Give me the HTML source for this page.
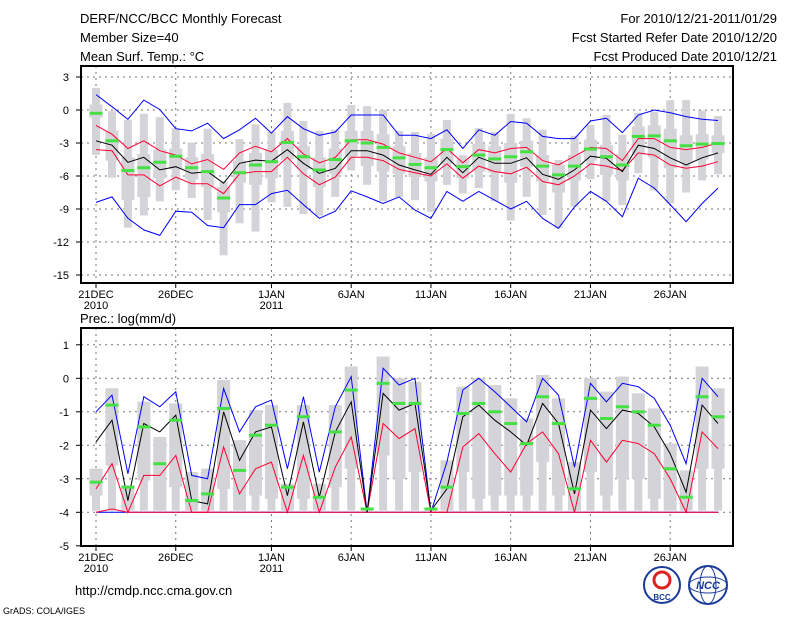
<!DOCTYPE html>
<html><head><meta charset="utf-8"><style>
body{margin:0;background:#fff}
svg{display:block}
text{font-family:"Liberation Sans","DejaVu Sans",sans-serif;fill:#000}
</style></head><body>
<svg id="chart" width="800" height="618" viewBox="0 0 800 618" xmlns="http://www.w3.org/2000/svg">
<text x="80" y="23" font-size="13">DERF/NCC/BCC Monthly Forecast</text>
<text x="80" y="42" font-size="13">Member Size=40</text>
<text x="80" y="61" font-size="13">Mean Surf. Temp.: °C</text>
<text x="777" y="23" font-size="13" text-anchor="end">For 2010/12/21-2011/01/29</text>
<text x="777" y="42" font-size="13" text-anchor="end">Fcst Started Refer Date 2010/12/20</text>
<text x="777" y="61" font-size="13" text-anchor="end">Fcst Produced Date 2010/12/21</text>
<text x="80" y="323" font-size="13">Prec.: log(mm/d)</text>
<text x="75" y="595" font-size="13">http://cmdp.ncc.cma.gov.cn</text>
<text x="3" y="614" font-size="9">GrADS: COLA/IGES</text>
<g>
<circle cx="662" cy="585" r="18" fill="#fff" stroke="#1a3a9a" stroke-width="2"/>
<circle cx="662" cy="580" r="8" fill="none" stroke="#d22" stroke-width="3"/>
<text x="662" y="600" font-size="8" text-anchor="middle" font-weight="bold" style="fill:#1a3a9a">BCC</text>
</g>
<g>
<circle cx="708" cy="585" r="19" fill="#fff" stroke="#1a3a9a" stroke-width="2"/>
<ellipse cx="708" cy="585" rx="19" ry="8" fill="none" stroke="#1a3a9a"/>
<ellipse cx="708" cy="585" rx="8" ry="19" fill="none" stroke="#1a3a9a"/>
<text x="708" y="589" font-size="11" text-anchor="middle" font-weight="bold" font-style="italic" style="fill:#1a3a9a">NCC</text>
</g>
<g id="top"></g>
<g id="bot"></g>
</svg>
<script>
const days = ["21DEC","22","23","24","25","26DEC","27","28","29","30","31","1JAN","2","3","4","5","6JAN","7","8","9","10","11JAN","12","13","14","15","16JAN","17","18","19","20","21JAN","22","23","24","25","26JAN","27","28","29"];
const xTickLabels = ["21DEC","26DEC","1JAN","6JAN","11JAN","16JAN","21JAN","26JAN"];
const xTickDays = [0,5,11,16,21,26,31,36];
const topYTicks = [3,0,-3,-6,-9,-12,-15];
const botYTicks = [1,0,-1,-2,-3,-4,-5];

const tMax = [2.0,-0.1,-0.9,-0.35,-0.65,-1.65,-2.95,-1.7,-6.5,-2.65,-1.3,-2.0,0.65,-1.0,-1.9,-1.8,0.45,0.35,0,-1.9,-2.0,-2.2,-0.9,-4.1,-1.65,-2.0,-0.35,-0.75,-1.8,-4.55,-2.35,-1.35,-0.45,-2.25,-0.25,-0.15,0.9,0.9,-0.05,-0.55];
const tMin = [-4.1,-6.15,-10.7,-9.6,-8.3,-7.3,-8.0,-10,-13.2,-10.3,-11.05,-8.4,-8.8,-9.45,-9.6,-7.9,-5.5,-6.8,-8.3,-7.9,-8.2,-9.25,-6.8,-7.6,-7.1,-8.3,-10.05,-7.9,-9.55,-10.75,-8.8,-6.3,-8.3,-8.65,-5.75,-7.3,-8.5,-7.5,-6.4,-5.85];
const tQ3 = [0.5,-1.9,-4.3,-4.0,-3.6,-3.5,-4.3,-4.0,-7.0,-4.6,-3.9,-3.6,-1.9,-3.3,-4.3,-3.5,-1.9,-1.9,-2.2,-3.3,-3.9,-4.3,-2.6,-4.5,-3.1,-3.3,-3.0,-2.8,-4.1,-5.0,-4.1,-2.7,-3.2,-4.0,-1.5,-1.4,-1.7,-2.3,-2.2,-2.3];
const tQ1 = [-0.7,-4.6,-8.2,-7.9,-6.2,-5.4,-6.3,-7.0,-9.3,-6.6,-6.8,-6.2,-4.5,-5.4,-7.0,-5.8,-4.2,-5.1,-5.6,-5.8,-6.1,-6.5,-4.9,-6.2,-5.6,-5.7,-6.6,-5.2,-6.5,-7.5,-6.4,-4.6,-5.9,-6.4,-4.1,-4.3,-5.3,-4.7,-4.5,-3.9];
const tMed = [-0.3,-2.8,-5.5,-5.25,-4.75,-4.2,-5.25,-5.6,-8.0,-5.7,-5.0,-4.7,-2.95,-4.25,-5.45,-4.5,-2.8,-3.0,-3.4,-4.35,-4.95,-5.25,-3.6,-5.15,-4.1,-4.45,-4.25,-3.8,-5.1,-5.9,-5.1,-3.55,-4.25,-5.0,-2.4,-2.35,-2.8,-3.25,-3.1,-3.05];
const tMean = [-2.8,-3.2,-4.75,-4.3,-5.45,-5.15,-5.75,-5.6,-6.65,-4.85,-4.55,-4.65,-3.6,-4.85,-5.75,-5.3,-3.7,-3.7,-4.1,-5.0,-5.45,-5.85,-4.3,-5.7,-4.3,-4.85,-4.85,-4.35,-5.85,-6.3,-5.45,-4.2,-4.4,-5.6,-3.2,-3.5,-4.35,-5.0,-4.35,-3.9];
const tRedHi = [-1.4,-2.2,-3.5,-2.8,-3.7,-4.1,-4.9,-4.5,-5.4,-3.9,-3.3,-3.8,-2.6,-4.0,-4.8,-4.3,-2.7,-2.7,-3.1,-3.9,-4.3,-4.7,-3.5,-4.8,-3.6,-3.9,-3.5,-3.4,-4.6,-5.0,-4.2,-3.4,-3.5,-4.6,-2.6,-2.6,-3.4,-3.6,-3.4,-3.0];
const tRedLo = [-3.6,-3.7,-5.9,-5.9,-6.9,-6.1,-6.7,-6.7,-7.6,-5.8,-5.6,-5.6,-4.3,-5.8,-6.8,-6.1,-4.3,-4.3,-4.6,-5.4,-5.7,-6.0,-4.9,-6.2,-5.1,-5.6,-5.8,-5.2,-6.5,-6.8,-6.0,-4.9,-5.1,-5.5,-3.9,-4.1,-5.0,-5.3,-5.1,-4.7];
const tBlueHi = [1.4,0.3,-0.85,0.9,0.05,-1.7,-1.9,-1.2,-2.6,-1.8,-0.75,-2.1,-0.6,-1.7,-2.3,-2.0,-0.45,-0.45,-0.45,-2.3,-2.3,-2.6,-1.8,-3.5,-1.8,-2.3,-1.05,-1.2,-2.4,-2.6,-2.6,-1.0,-0.75,-2.05,-0.45,0,-0.25,-0.6,-0.85,-0.95];
const tBlueLo = [-8.4,-7.9,-9.85,-10.9,-11.4,-9.2,-9.3,-10.5,-10.7,-8.6,-8.6,-7.6,-7.3,-8.6,-9.85,-9.2,-7.35,-7.9,-8.5,-7.9,-9.1,-9.85,-7.4,-8.3,-7.4,-8.2,-9.0,-8.3,-9.85,-10.75,-8.8,-7.4,-8.3,-9.7,-6.2,-7.1,-8.6,-10.15,-8.5,-7.1];

const bMax = [-2.7,-0.3,-3.2,-0.7,-1.75,-0.75,-2.8,-2.7,-0.05,-1.85,-0.95,-0.8,-3.15,-0.8,-3.15,-0.8,0.35,-3.9,0.65,0.0,-0.1,-3.9,-2.45,-0.25,0.0,-0.2,-0.6,-1.2,0.1,-0.6,-2.5,0.0,-0.4,0.05,-0.45,-0.9,-1.95,-2.75,0.35,-0.3];
const bQ3 = [-2.7,-0.3,-3.2,-0.7,-1.75,-0.75,-2.8,-2.7,-0.05,-1.85,-0.95,-0.8,-3.15,-0.8,-3.15,-0.8,0.35,-3.9,0.65,0.0,-0.1,-3.9,-2.45,-0.25,0.0,-0.2,-0.6,-1.2,0.1,-0.6,-2.5,0.0,-0.4,0.05,-0.45,-0.9,-1.95,-2.75,0.35,-0.3];
const bQ1 = [-3.5,-2.6,-3.95,-3.05,-3.95,-3.25,-3.95,-3.95,-3.3,-3.95,-3.5,-3.6,-3.95,-3.6,-3.95,-3.25,-2.7,-3.95,-2.3,-3.0,-2.8,-3.95,-3.95,-2.8,-3.6,-3.5,-3.5,-3.5,-2.5,-3.5,-3.95,-2.8,-3.5,-3.0,-3.0,-3.6,-3.95,-3.95,-2.7,-2.7];
const bMin = [-3.95,-3.95,-3.95,-3.95,-3.95,-3.95,-3.95,-3.95,-3.95,-3.95,-3.95,-3.95,-3.95,-3.95,-3.95,-3.95,-3.95,-3.95,-3.95,-3.95,-3.95,-3.95,-3.95,-3.95,-3.95,-3.95,-3.95,-3.95,-3.95,-3.95,-3.95,-3.95,-3.95,-3.95,-3.95,-3.95,-3.95,-3.95,-3.95,-3.95];
const bMed = [-3.1,-0.8,-3.25,-1.45,-2.55,-1.25,-3.65,-3.45,-0.9,-2.75,-1.7,-1.4,-3.25,-1.15,-3.55,-1.6,-0.35,-3.9,-0.15,-0.75,-0.75,-3.9,-3.25,-1.05,-0.75,-1.0,-1.35,-1.95,-0.55,-1.35,-3.3,-0.6,-1.2,-0.85,-1.0,-1.4,-2.7,-3.55,-0.55,-1.15];
const bMean = [-1.9,-1.25,-3.65,-1.35,-1.6,-1.1,-3.65,-3.75,-1.0,-2.45,-1.6,-1.45,-3.5,-1.3,-3.55,-1.6,-0.7,-4.0,-0.45,-0.95,-0.75,-3.95,-3.3,-1.15,-0.8,-1.25,-1.6,-2.0,-0.75,-1.35,-3.45,-0.95,-1.5,-0.95,-1.05,-1.45,-2.25,-3.4,-0.8,-1.35];
const bRedHi = [-3.3,-2.55,-4,-2.9,-2.9,-2.3,-4,-4,-2.05,-3.45,-2.7,-2.5,-4,-2.3,-4,-2.65,-1.75,-4,-1.35,-1.8,-1.5,-4,-4,-2.05,-1.65,-2.25,-2.8,-1.95,-1.6,-2.25,-4,-1.85,-2.5,-1.85,-1.95,-2.25,-3.0,-4,-1.6,-2.1];
const bRedLo = [-4,-3.9,-4,-4,-4,-4,-4,-4,-4,-4,-4,-4,-4,-4,-4,-4,-4,-4,-4,-4,-4,-4,-4,-4,-4,-4,-4,-4,-4,-4,-4,-4,-4,-4,-4,-4,-4,-4,-4,-4];
const bBlueHi = [-1.0,-0.5,-2.85,-0.55,-0.85,-0.4,-2.9,-3.0,-0.3,-1.6,-0.85,-0.65,-2.7,-0.55,-2.8,-0.85,0.05,-4.0,0.3,-0.2,0.0,-4.0,-2.5,-0.35,0.0,-0.4,-0.85,-1.3,0.0,-0.5,-2.65,-0.15,-0.7,-0.15,-0.25,-0.6,-1.4,-2.55,0.0,-0.55];
const bBlueLo = [-4,-4,-4,-4,-4,-4,-4,-4,-4,-4,-4,-4,-4,-4,-4,-4,-4,-4,-4,-4,-4,-4,-4,-4,-4,-4,-4,-4,-4,-4,-4,-4,-4,-4,-4,-4,-4,-4,-4,-4];

const NS = "http://www.w3.org/2000/svg";
function xS(d){ return 96 + d*15.95; }
function yTop(v){ return 110 - 11*v; }
function yBot(v){ return 378.3 - 33.5*v; }
function mk(parent, tag, attrs){
  const e = document.createElementNS(NS, tag);
  for (const k in attrs) e.setAttribute(k, attrs[k]);
  parent.appendChild(e); return e;
}

function drawPanel(g, box, yS, yTicks, S, yearLabelY){
  mk(g,'rect',{x:box.l,y:box.t,width:box.r-box.l,height:box.b-box.t,fill:'#fff'});
  // grid
  yTicks.forEach(v=>{
    const y=yS(v);
    if (y>box.t+2 && y<box.b-2){
      const ln=mk(g,'line',{x1:box.l,x2:box.r,y1:y,y2:y,stroke:'#777','stroke-width':1,'stroke-dasharray':'2,4'});
      
      
    }
    const tk=mk(g,'line',{x1:box.l-5,x2:box.l,y1:y,y2:y,stroke:'#000','stroke-width':1});
    
    
    const t=mk(g,'text',{x:box.l-12,y:y+4,'font-size':11,'text-anchor':'end'});
    t.textContent=String(v);
    
    
  });
  xTickDays.forEach((d,i)=>{
    const x=xS(d);
    const gl=mk(g,'line',{x1:x,x2:x,y1:box.t,y2:box.b,stroke:'#777','stroke-width':1,'stroke-dasharray':'2,4'});
    
    
    const tk=mk(g,'line',{x1:x,x2:x,y1:box.b,y2:box.b+5,stroke:'#000'});
    
    
    const t=mk(g,'text',{x:x,y:box.b+15,'font-size':11,'text-anchor':'middle'});
    t.textContent=xTickLabels[i];
    
    
  });
  [[0,'2010'],[11,'2011']].forEach(p=>{
    const t=mk(g,'text',{x:xS(p[0]),y:yearLabelY,'font-size':11,'text-anchor':'middle'});
    t.textContent=p[1];
    
    
  });
  // boxes
  days.forEach((dn,i)=>{
    const x=xS(i);
    const a=yS(S.max[i]), b=yS(S.min[i]);
    const r1=mk(g,'rect',{x:x-4,y:a,width:8,height:Math.max(1,b-a),fill:'#d4d4d8'});
    
    
    const c=yS(S.q3[i]), d=yS(S.q1[i]);
    const r2=mk(g,'rect',{x:x-6.5,y:c,width:13,height:Math.max(1,d-c),fill:'#d4d4d8'});
    
    
  });
  const line=(arr,col,name)=>{
    const pts=arr.map((v,i)=>xS(i).toFixed(1)+','+yS(v).toFixed(1)).join(' ');
    const p=mk(g,'polyline',{points:pts,fill:'none',stroke:col,'stroke-width':1});
    
    
  };
  line(S.blueLo,'#0000ff','min-line');
  line(S.blueHi,'#0000ff','max-line');
  line(S.redLo,'#ff0033','lower-std-line');
  line(S.redHi,'#ff0033','upper-std-line');
  line(S.mean,'#000','ensemble-mean-line');
  S.med.forEach((v,i)=>{
    const m=mk(g,'rect',{x:xS(i)-6.5,y:yS(v)-1.5,width:13,height:3,fill:'#44e044'});
    
    
  });
  const f=mk(g,'rect',{x:box.l,y:box.t,width:box.r-box.l,height:box.b-box.t,fill:'none',stroke:'#000','stroke-width':2});
  
  
}

drawPanel(document.getElementById('top'),{l:81,r:733,t:66,b:283},yTop,topYTicks,
  {max:tMax,min:tMin,q3:tQ3,q1:tQ1,med:tMed,mean:tMean,redHi:tRedHi,redLo:tRedLo,blueHi:tBlueHi,blueLo:tBlueLo},309);
drawPanel(document.getElementById('bot'),{l:81,r:733,t:328,b:546},yBot,botYTicks,
  {max:bMax,min:bMin,q3:bQ3,q1:bQ1,med:bMed,mean:bMean,redHi:bRedHi,redLo:bRedLo,blueHi:bBlueHi,blueLo:bBlueLo},572);
</script>
</body></html>
